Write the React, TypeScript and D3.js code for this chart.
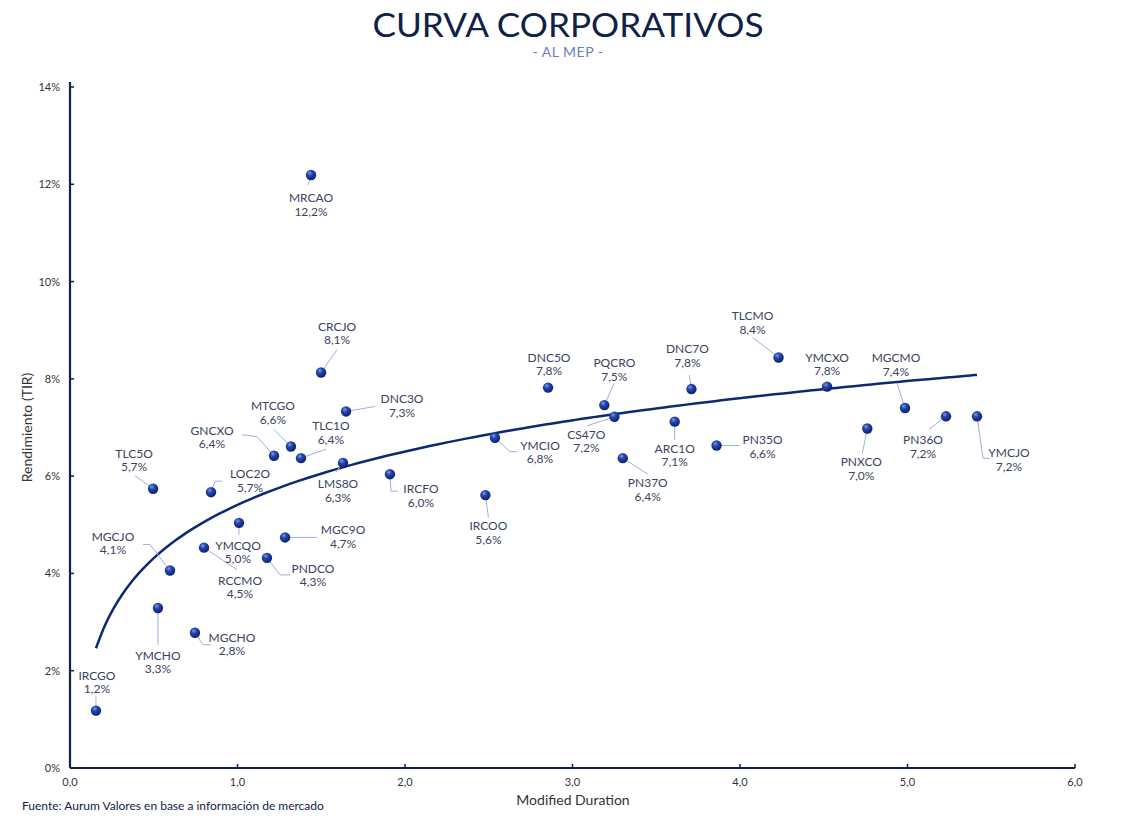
import React from "react";
import * as d3 from "d3";

const names = ["IRCGO","YMCHO","MGCHO","MGCJO","TLC5O","LOC2O","YMCQO","RCCMO","PNDCO","MGC9O","GNCXO","MTCGO","TLC1O","LMS8O","CRCJO","DNC3O","MRCAO","IRCFO","IRCOO","YMCIO","DNC5O","PQCRO","CS47O","PN37O","ARC1O","DNC7O","PN35O","TLCMO","YMCXO","MGCMO","PNXCO","PN36O","YMCJO"];
const durations = [0.155,0.525,0.746,0.597,0.496,0.842,1.009,0.80,1.176,1.284,1.218,1.319,1.379,1.63,1.499,1.648,1.439,1.91,2.48,2.537,2.854,3.19,3.25,3.30,3.61,3.71,3.86,4.23,4.52,4.985,4.76,5.23,5.415];
const yields = [1.18,3.29,2.78,4.06,5.74,5.67,5.04,4.53,4.32,4.74,6.42,6.61,6.37,6.27,8.13,7.33,12.19,6.04,5.61,6.79,7.82,7.46,7.22,6.37,7.12,7.79,6.63,8.44,7.84,7.40,6.98,7.23,7.23];
// label layout: [dx, dy] of label centre relative to marker (px)
const labelOffsets = [[1,-35],[0,48],[37,5],[-57,-34],[-19,-35],[39,-18],[-1,23],[36,33],[46,11],[58,-7],[-62,-25],[-18,-40],[30,-32],[-5,21],[16,-46],[56,-12],[0,23],[31,15],[3,31],[45,8],[1,-30],[10,-42],[-28,18],[25,25],[0,27],[-4,-40],[46,-5],[-26,-41],[0,-29],[-9,-50],[-6,34],[-23,24],[32,37]];
// leader polylines relative to marker (px); empty = none
const leaders = [[[0,-14]],[[0,37]],[[8,12],[16,12]],[[-20,-26],[-27,-26]],[[-18,-13]],[[4,-11],[11,-11]],[[0,12]],[[33,22]],[[13,17],[23,17]],[[32,0]],[[-17,-19],[-32,-21]],[[-17,-17]],[[25,-9]],[[-7,9]],[[16,-23]],[[29,-5]],[[-3,10]],[[1,17],[8,17]],[[3,22]],[[15,14],[22,14]],[],[[10,-22]],[[-27,9]],[[25,16]],[[0,18]],[[-2,-14]],[[23,0]],[[-26,-20]],[],[[-8,-25]],[[-5,25]],[[-17,13]],[[6,42],[13,42]]];

const xTicks = [0,1,2,3,4,5,6];
const yTicks = [0,2,4,6,8,10,12,14];

const W = 1136, H = 824;
const M = { left: 70, right: 1075, top: 87, bottom: 768 };
const FONT = "Lato, 'Open Sans', sans-serif";
const NAVY = "#0f2147";

export default function App() {
  const x = d3.scaleLinear().domain([0, 6]).range([M.left, M.right]);
  const y = d3.scaleLinear().domain([0, 14]).range([M.bottom, M.top]);
  const fmt = (v: number) => d3.format(".1f")(v).replace(".", ",");

  // logarithmic trend line (least squares on ln x)
  const L = durations.map(Math.log);
  const lm = d3.mean(L)!, ym = d3.mean(yields)!;
  const b = d3.sum(L, (l, i) => (l - lm) * (yields[i] - ym)) / d3.sum(L, (l) => (l - lm) ** 2);
  const a = ym - b * lm;
  const xmin = d3.min(durations)!, xmax = d3.max(durations)!;
  const trendX = d3.range(0, 101).map((i) => xmin + (xmax - xmin) * (i / 100));
  const line = d3.line<number>().x((d) => x(d)).y((d) => y(a + b * Math.log(d))).curve(d3.curveMonotoneX);

  return (
    <svg width={W} height={H} style={{ position: "absolute", left: 0, top: 0, background: "#fff" }} fontFamily={FONT}>
      <defs>
        <radialGradient id="ball" cx="38%" cy="32%" r="70%">
          <stop offset="0%" stopColor="#7f9cf0" />
          <stop offset="35%" stopColor="#2747b0" />
          <stop offset="100%" stopColor="#0b1f66" />
        </radialGradient>
      </defs>
      <text x={568} y={37} textAnchor="middle" fontSize={33} fill={NAVY} textLength={391} lengthAdjust="spacingAndGlyphs" fontWeight={400}>CURVA CORPORATIVOS</text>
      <text x={568} y={57} textAnchor="middle" fontSize={14} fill="#6a7cc0" letterSpacing={0.5}>- AL MEP -</text>

      {/* axes */}
      <line x1={M.left} x2={M.left} y1={82} y2={M.bottom} stroke={NAVY} strokeWidth={2.2} />
      <line x1={M.left} x2={M.right} y1={M.bottom} y2={M.bottom} stroke={NAVY} strokeWidth={2.2} />
      {yTicks.map((t) => (
        <g key={"y" + t}>
          <line x1={M.left} x2={M.left + 4} y1={y(t)} y2={y(t)} stroke={NAVY} strokeWidth={1.5} />
          <text x={60} y={y(t) + 4} textAnchor="end" fontSize={11} fill="#333">{t}%</text>
        </g>
      ))}
      {xTicks.map((t) => (
        <g key={"x" + t}>
          <line x1={x(t)} x2={x(t)} y1={M.bottom} y2={M.bottom - 4} stroke={NAVY} strokeWidth={1.5} />
          <text x={x(t)} y={786} textAnchor="middle" fontSize={11} fill="#333">{fmt(t)}</text>
        </g>
      ))}
      <text transform={`translate(32,${(M.top + M.bottom) / 2}) rotate(-90)`} textAnchor="middle" fontSize={14} fill="#333">Rendimiento (TIR)</text>
      <text x={573} y={805} textAnchor="middle" fontSize={14} fill="#333">Modified Duration</text>
      <text x={22} y={810} fontSize={12} fill={NAVY}>Fuente: Aurum Valores en base a información de mercado</text>

      {/* trend */}
      <path d={line(trendX) || ""} fill="none" stroke="#0c2a72" strokeWidth={2.5} />

      {/* leaders */}
      {names.map((n, i) => {
        const px = x(durations[i]), py = y(yields[i]);
        const pts = leaders[i];
        if (!pts.length) return null;
        const d = "M" + px + "," + py + pts.map((p) => "L" + (px + p[0]) + "," + (py + p[1])).join("");
        return <path key={"l" + n} d={d} fill="none" stroke="#9fb0d8" strokeWidth={1} />;
      })}
      {/* markers */}
      {names.map((n, i) => (
        <circle key={"c" + n} cx={x(durations[i])} cy={y(yields[i])} r={5.2} fill="url(#ball)" />
      ))}
      {/* labels */}
      {names.map((n, i) => {
        const px = x(durations[i]) + labelOffsets[i][0], py = y(yields[i]) + labelOffsets[i][1];
        return (
          <text key={"t" + n} x={px} y={py + 4} textAnchor="middle" fontSize={12} fill="#3b4262">
            <tspan x={px}>{n}</tspan>
            <tspan x={px} dy={13.5}>{fmt(yields[i])}%</tspan>
          </text>
        );
      })}
    </svg>
  );
}
